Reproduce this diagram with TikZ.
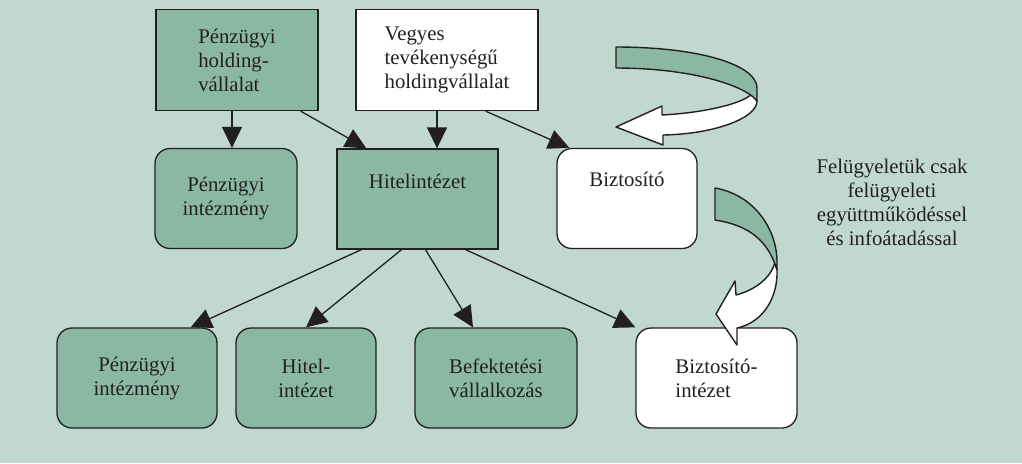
\documentclass[tikz,border=0pt]{standalone}
\usepackage{fontspec}
\setmainfont{Liberation Serif}
\usetikzlibrary{arrows.meta}

\definecolor{bgmint}{RGB}{192,216,206}
\definecolor{boxgreen}{RGB}{139,184,165}
\definecolor{inkgray}{RGB}{35,31,32}

\tikzset{
  box/.style={draw=inkgray, line width=0.65pt, inner sep=0pt,
    text=inkgray, minimum height=50pt},
  greenbox/.style={box, fill=boxgreen},
  whitebox/.style={box, fill=white},
  roundbox/.style={rounded corners=7.5pt},
  link/.style={draw=inkgray, line width=0.65pt,
    -{Triangle[length=10.5pt,width=10pt]}},
  swirl/.style={draw=inkgray, line width=0.7pt, line join=round}
}

\begin{document}
\begin{tikzpicture}[x=0.5pt, y=-0.5pt, font=\fontsize{10.4}{12}\selectfont]
      \fill[bgmint] (0,0) rectangle (1022,463);
      \useasboundingbox (0,0) rectangle (1022,463);

      % top row
      \node[greenbox, minimum width=81pt, minimum height=50.5pt, align=left]
        (holding) at (237,60) {Pénzügyi\\holding-\\vállalat};
      \node[whitebox, minimum width=91pt, minimum height=50.5pt, align=left]
        (vegyes) at (447,60) {Vegyes\\tevékenységű\\holdingvállalat};

      % middle row
      \node[greenbox, roundbox, minimum width=71pt, align=center]
        (pintM) at (226,198.5) {Pénzügyi\\intézmény};
      \node[greenbox, minimum width=80.5pt,
        label={[text=inkgray, anchor=center, yshift=-16.5pt]north:Hitelintézet}]
        (hitel) at (417.5,199) {};
      \node[whitebox, roundbox, minimum width=70pt,
        label={[text=inkgray, anchor=center, yshift=-16pt]north:Biztosító}]
        (bizt) at (627,198.5) {};

      % bottom row
      \node[greenbox, roundbox, minimum width=80pt, align=center]
        (pintB) at (137,378) {Pénzügyi\\intézmény};
      \node[greenbox, roundbox, minimum width=70pt, align=center]
        (hitelB) at (306,378) {Hitel-\\intézet};
      \node[greenbox, roundbox, minimum width=81pt, align=center]
        (bef) at (496,378) {Befektetési\\vállalkozás};
      \node[whitebox, roundbox, minimum width=80.5pt, align=left]
        (biztInt) at (716.5,378) {Biztosító-\\intézet};

      \node[text=inkgray, align=center] (note) at (892,202)
        {Felügyeletük csak\\felügyeleti\\együttműködéssel\\és infoátadással};

      % connectors
      \draw[link] ([xshift=-2.5pt]holding.south) -- ([xshift=-2.5pt]holding.south |- pintM.north);
      \draw[link] ([xshift=-9pt]holding.south east) -- ([xshift=15pt]hitel.north west);
      \draw[link] ([xshift=-5pt]vegyes.south) -- ([xshift=-5pt]vegyes.south |- hitel.north);
      \draw[link] ([xshift=-26.5pt]vegyes.south east) -- ([xshift=6.5pt]bizt.north west);
      \draw[link] ([xshift=12.5pt]hitel.south west) -- ([xshift=-13.5pt]pintB.north east);
      \draw[link] ([xshift=-8pt]hitel.south) -- (hitelB.north);
      \draw[link] ([xshift=4pt]hitel.south) -- ([xshift=-11.5pt]bef.north);
      \draw[link] ([xshift=-16.5pt]hitel.south east) -- (biztInt.north west);

      % curved arrow near Biztosito
      \draw[swirl, fill=white] (662,115) .. controls (700,113) and (740,105) .. (752,94)
        -- (757,101) .. controls (757,118) and (715,134) .. (663,135)
        -- (663,145) -- (616,127) -- (662,106) -- cycle;
      \draw[swirl, fill=boxgreen] (616,47) .. controls (700,47) and (757,65) .. (757,88)
        -- (757,101) .. controls (745,85) and (690,68) .. (616,68) -- cycle;

      % curved arrow down to Biztosito-intezet
      \draw[swirl, fill=white] (736,295) .. controls (755,290) and (771,278) .. (775,262)
        -- (777,270) .. controls (778,295) and (765,322) .. (737,328)
        -- (737,345) -- (716,314) -- (735,281) -- cycle;
      \draw[swirl, fill=boxgreen] (715,188) .. controls (755,195) and (777,230) .. (777,262)
        -- (777,270) .. controls (768,240) and (748,225) .. (715,220) -- cycle;
\end{tikzpicture}
\end{document}
